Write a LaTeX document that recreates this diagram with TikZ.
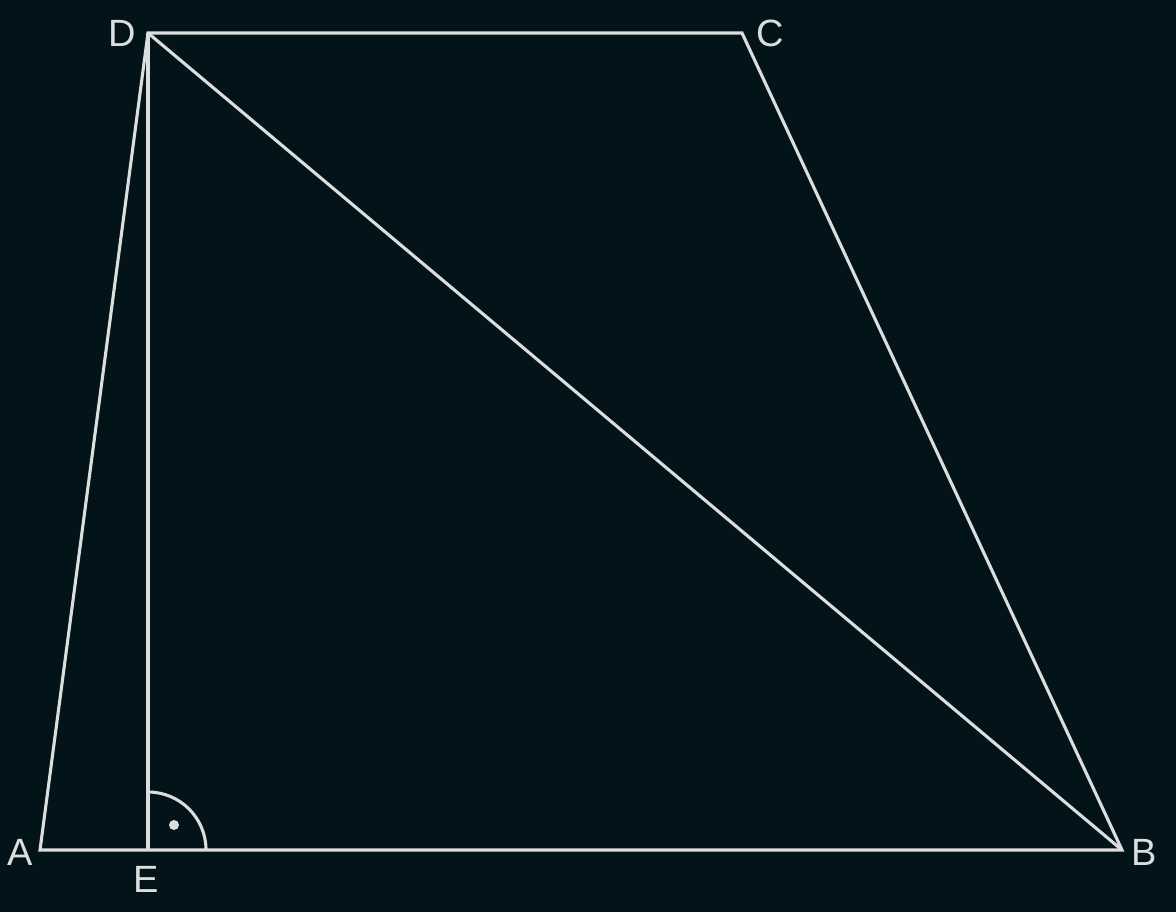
\documentclass[tikz,border=0pt]{standalone}
\usepackage{fontspec}
\setmainfont{Liberation Sans}
\definecolor{board}{RGB}{2,20,26}
\definecolor{chalk}{RGB}{220,222,222}
\tikzset{
	edge/.style={draw=chalk, line width=2.2pt, line join=miter},
	vlabel/.style={text=chalk, font=\fontsize{27}{30}\selectfont, inner sep=0},
}

\begin{document}
\begin{tikzpicture}[x=0.025cm, y=-0.025cm]
		\fill[board] (0, 0) rectangle (1176, 912);
		\useasboundingbox (0, 0) rectangle (1176, 912);

		\coordinate (A) at (40, 850);
		\coordinate (E) at (148, 850);
		\coordinate (B) at (1122, 850);
		\coordinate (C) at (742, 33);
		\coordinate (D) at (148, 33);

		\draw[edge] (A) -- (B) -- (C) -- (D) -- cycle;
		\draw[edge] (D) -- (B);
		\draw[edge] (D) -- (E);

		% right angle at E
		\draw[edge] (148, 792) arc (90:0:1.45cm);
		\fill[chalk] (174, 825) circle (5);

		\node[vlabel] (labA) at (20, 852) {A};
		\node[vlabel] (labB) at (1144, 852) {B};
		\node[vlabel] (labC) at (770, 33) {C};
		\node[vlabel] (labD) at (122, 33) {D};
		\node[vlabel] (labE) at (146, 879) {E};
	\end{tikzpicture}
\end{document}
